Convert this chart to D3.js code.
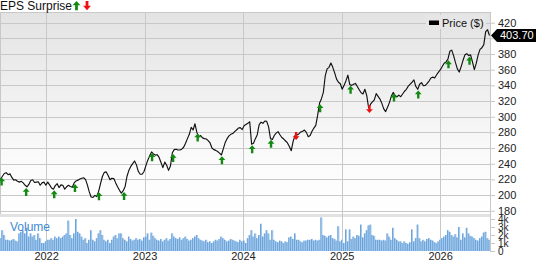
<!DOCTYPE html>
<html lang="en">

<head>
  <meta charset="UTF-8">
  <title>Price, EPS Surprise and Volume</title>
  <script src="https://cdn.jsdelivr.net/npm/d3@7/dist/d3.min.js"></script>
  <style>
    body {
      margin: 0;
      background: #fff;
    }

    svg {
      display: block;
      font-family: "Liberation Sans", Arial, sans-serif;
    }

    .axis text {
      fill: #222;
      font-size: 11px;
    }

    .axis line {
      stroke: #c8c8c8;
    }

    .axis path {
      display: none;
    }
  </style>
</head>

<body>
  <svg id="chart" width="538" height="262"></svg>

  <script>
    // weekly closes, first week ending 2021-07-16
    const startWeek = "2021-07-16";

    const prices = [
      220.5, 224, 227.5, 228.5, 226, 227, 222.5, 219, 219.5, 217.5,
      216.5, 217.5, 215.5, 212.5, 210.5, 213.5, 218.5, 219.5, 216, 216.5,
      217, 212.5, 215.5, 216.5, 212.5, 216.5, 213, 209, 207.5, 212,
      214.5, 209.5, 213, 212.5, 207.5, 210.5, 212.5, 211, 210, 215.5,
      218, 219, 220.5, 221.4, 222, 220, 213, 204, 197.5, 197,
      199.5, 198, 205, 215, 224, 229, 229.5, 225, 219.5, 221.5,
      221, 215.5, 210.5, 206, 202.5, 205.5, 211, 224, 231.5, 236.5,
      240, 243.5, 238.5, 230, 226.5, 226.5, 230, 237.5, 244.5, 250,
      255, 252.5, 251, 251.5, 248, 241.5, 235, 242, 238, 231.5,
      237, 254, 258, 258.5, 257.5, 257.5, 258.5, 261, 266, 272,
      277.5, 286.5, 283, 291, 280, 274, 276, 273, 272, 271.5,
      269.5, 266.5, 260, 258, 257, 255.5, 253.5, 251.1, 259, 267,
      272, 275.5, 277.5, 278.5, 281, 283, 285.5, 286, 283.5, 288.5,
      290, 291.5, 293.5, 265, 266, 272, 277, 290, 293, 291.5,
      294.5, 294, 287, 272, 271, 276, 279, 281, 277, 273.5,
      271.5, 269, 266.5, 262, 256.6, 268.5, 276, 276.5, 278, 280.5,
      281.5, 283, 280, 274.5, 276, 281.5, 285.5, 289, 302, 317.5,
      323, 331, 352, 361, 363, 368.5, 363, 356, 348, 344,
      342, 335, 340, 346, 353, 341, 340, 341.5, 342.5, 338.5,
      334.5, 330.5, 329, 335, 327, 311.1, 316, 319, 321.5, 329.5,
      326, 322.5, 317, 310, 306.5, 312, 318, 326, 331, 327,
      325.5, 327.5, 325.5, 329, 332.5, 335, 339, 341.5, 344, 347,
      338.5, 335, 341.5, 343.5, 339.5, 340, 342.5, 345.5, 349.5, 350.5,
      349.5, 353.5, 357, 360, 364, 368.2, 370, 373.5, 383.5, 385,
      378, 369, 361, 357, 364, 372, 379, 380.5, 378, 379,
      370, 360, 368, 379, 386, 388, 392, 408.5, 411, 403.7
    ];

    // weekly volume, in thousands
    const volumes = [
      1.6, 2.6, 2.0, 1.4, 1.4, 1.3, 1.4, 1.5, 1.3, 1.2, 2.2, 2.4, 2.6, 2.2, 2.9, 1.8, 2.2, 1.8, 2.0, 1.4,
      2.2, 1.6, 1.0, 1.0, 1.2, 1.4, 1.4, 1.6, 1.4, 1.8, 1.6, 1.8, 1.6, 1.8, 2.0, 2.2, 3.8, 2.0, 1.6, 2.2,
      4.0, 2.4, 2.2, 1.8, 1.4, 1.6, 1.0, 1.4, 2.6, 1.4, 1.2, 1.6, 2.2, 2.6, 2.0, 1.4, 1.2, 1.4, 1.0, 1.4,
      1.8, 2.0, 1.6, 2.2, 2.2, 1.6, 1.4, 1.2, 1.8, 1.5, 1.3, 1.4, 1.6, 1.4, 1.5, 1.3, 1.7, 1.8, 2.2, 1.4,
      2.3, 1.9, 1.6, 1.4, 1.3, 1.5, 1.2, 1.4, 1.6, 1.3, 1.5, 2.2, 1.8, 1.6, 1.5, 1.7, 1.4, 1.6, 1.8, 1.5,
      1.3, 1.4, 1.6, 1.8, 2.0, 1.6, 1.4, 1.3, 1.2, 1.4, 1.1, 1.2, 1.0, 1.2, 1.4, 1.3, 1.5, 1.8, 1.6, 1.4,
      1.2, 1.3, 1.5, 1.4, 1.3, 1.2, 1.1, 1.4, 1.2, 1.3, 1.0, 1.6, 2.0, 2.6, 1.8, 2.2, 1.6, 2.0, 3.4, 1.8,
      2.2, 2.6, 2.2, 1.4, 2.6, 1.4, 1.2, 1.1, 1.3, 1.2, 1.0, 1.2, 1.1, 1.7, 1.8, 1.5, 2.2, 1.4, 1.4, 1.2,
      1.1, 1.3, 1.3, 1.4, 1.4, 1.5, 1.3, 1.4, 1.3, 1.4, 4.2, 2.0, 1.9, 1.7, 1.9, 2.0, 1.6, 1.5, 1.3, 3.1,
      1.2, 1.4, 1.0, 2.7, 1.2, 2.7, 1.5, 1.8, 1.6, 2.0, 1.9, 3.3, 1.7, 2.2, 2.6, 3.2, 3.3, 2.0, 1.9, 1.4,
      1.4, 1.4, 1.3, 1.4, 1.3, 2.2, 1.8, 1.4, 2.9, 1.6, 1.4, 1.2, 1.2, 1.0, 1.2, 1.0, 0.9, 1.1, 2.7, 1.2,
      1.6, 3.3, 1.6, 1.2, 1.4, 1.2, 1.5, 1.6, 1.4, 1.3, 1.1, 1.0, 1.2, 1.4, 1.6, 1.8, 2.0, 2.6, 2.4, 2.0,
      1.8, 2.1, 1.7, 3.0, 1.4, 2.2, 1.7, 2.9, 2.2, 1.9, 1.8, 1.6, 1.4, 1.3, 1.6, 1.8, 2.3, 2.4, 1.6, 1.4
    ];

    const earningsDates = [
      "2021-07-20", "2021-10-19", "2022-01-31", "2022-04-18", "2022-07-16",
      "2022-10-17", "2023-01-29", "2023-04-17", "2023-07-17", "2023-10-15",
      "2024-02-04", "2024-04-14", "2024-07-16", "2024-10-13", "2025-02-03",
      "2025-04-14", "2025-07-14", "2025-10-12", "2026-02-01", "2026-04-20"
    ];
    const earningsSurprise = [
      "up", "up", "up", "up", "up", "up", "up", "up", "up", "up",
      "up", "up", "down", "up", "up", "down", "up", "up", "up", "up"
    ];

    const priceTicks = [180, 200, 220, 240, 260, 280, 300, 320, 340, 360, 380, 400, 420];
    const volumeTicks = [0, 1, 2, 3, 4];
    const lastPriceLabel = "403.70";

    const parse = d3.utcParse("%Y-%m-%d");
    const weeks = prices.map((_, i) => d3.utcDay.offset(parse(startWeek), 7 * i));

    const plotLeft = 0, plotRight = 490, plotTop = 12;
    const priceBottom = 214, volTop = 217, volBottom = 251;

    const svg = d3.select("#chart");

    const x = d3.scaleUtc()
      .domain([parse("2021-07-14"), parse("2026-07-05")])
      .range([plotLeft, plotRight]);

    const y = d3.scaleLinear().domain([180, 420]).range([210.7, 22.7]);
    const yVol = d3.scaleLinear().domain([0, 4]).range([volBottom, volBottom - 32]);

    // background gradient of the price panel
    const defs = svg.append("defs");
    const grad = defs.append("linearGradient")
      .attr("id", "bg").attr("x1", 0).attr("y1", 0).attr("x2", 0).attr("y2", 1);
    grad.append("stop").attr("offset", "0%").attr("stop-color", "#e3e3e3");
    grad.append("stop").attr("offset", "75%").attr("stop-color", "#fbfbfb");
    grad.append("stop").attr("offset", "100%").attr("stop-color", "#ffffff");

    svg.append("rect")
      .attr("x", plotLeft).attr("y", plotTop)
      .attr("width", plotRight - plotLeft).attr("height", priceBottom - plotTop)
      .attr("fill", "url(#bg)");

    // separator band between price and volume
    svg.append("rect")
      .attr("x", plotLeft).attr("y", priceBottom)
      .attr("width", plotRight - plotLeft).attr("height", volTop - priceBottom)
      .attr("fill", "#e2e2e2");

    // grid
    const grid = svg.append("g").attr("stroke", "#c8c8c8").attr("stroke-width", 1);
    grid.selectAll(".h")
      .data(priceTicks)
      .join("line")
      .attr("x1", plotLeft).attr("x2", plotRight)
      .attr("y1", d => Math.round(y(d)) + 0.5).attr("y2", d => Math.round(y(d)) + 0.5);

    grid.append("line")
      .attr("x1", plotLeft).attr("x2", plotRight)
      .attr("y1", plotTop + 0.5).attr("y2", plotTop + 0.5);

    const years = x.ticks(d3.utcYear.every(1));
    grid.selectAll(".v")
      .data(years)
      .join("line")
      .attr("x1", d => Math.round(x(d)) + 0.5).attr("x2", d => Math.round(x(d)) + 0.5)
      .attr("y1", plotTop).attr("y2", volBottom);

    grid.append("line")
      .attr("x1", plotLeft + 0.5).attr("x2", plotLeft + 0.5)
      .attr("y1", plotTop).attr("y2", priceBottom);

    // volume bars
    const barW = 1.9;
    svg.append("g")
      .selectAll("rect")
      .data(volumes)
      .join("rect")
      .attr("x", (d, i) => x(weeks[i]) - barW / 2)
      .attr("y", d => yVol(d))
      .attr("width", barW)
      .attr("height", d => volBottom - yVol(d))
      .attr("fill", "#a7caec");

    svg.append("g")
      .selectAll("rect")
      .data(volumes)
      .join("rect")
      .attr("x", (d, i) => x(weeks[i]) - barW / 2)
      .attr("y", d => yVol(d))
      .attr("width", 0.7)
      .attr("height", d => volBottom - yVol(d))
      .attr("fill", "#4f92d3");

    svg.append("text")
      .attr("x", 10).attr("y", 230.5)
      .attr("fill", "#3f8ad2")
      .attr("font-size", 12)
      .text("Volume");

    // price line
    const line = d3.line()
      .x((d, i) => x(weeks[i]))
      .y(d => y(d));

    svg.append("path")
      .datum(prices)
      .attr("fill", "none")
      .attr("stroke", "#111")
      .attr("stroke-width", 1.15)
      .attr("stroke-linejoin", "round")
      .attr("d", line);

    // earnings surprise arrows
    const upArrow = "M0,0 L3.4,3.8 L1.2,3.8 L1.2,8 L-1.2,8 L-1.2,3.8 L-3.4,3.8 Z";
    const downArrow = "M-1.2,0 L1.2,0 L1.2,4.2 L3.4,4.2 L0,8 L-3.4,4.2 L-1.2,4.2 Z";
    const bisect = d3.bisector(d => d).center;

    svg.append("g")
      .selectAll("path")
      .data(earningsDates)
      .join("path")
      .attr("transform", (d, i) => {
        const date = parse(d);
        const py = y(prices[bisect(weeks, date)]);
        const dy = earningsSurprise[i] === "up" ? 1.2 : -3;
        return `translate(${x(date)},${py + dy})`;
      })
      .attr("d", (d, i) => earningsSurprise[i] === "up" ? upArrow : downArrow)
      .attr("fill", (d, i) => earningsSurprise[i] === "up" ? "#128a12" : "#ee1111");

    // right axes
    svg.append("line")
      .attr("x1", plotRight + 0.5).attr("x2", plotRight + 0.5)
      .attr("y1", plotTop).attr("y2", volBottom + 1)
      .attr("stroke", "#c8c8c8");

    svg.append("g")
      .attr("class", "axis")
      .attr("transform", `translate(${plotRight},0)`)
      .call(d3.axisRight(y).tickValues(priceTicks).tickSize(5).tickPadding(3));

    svg.append("g")
      .attr("class", "axis")
      .attr("transform", `translate(${plotRight},0)`)
      .call(d3.axisRight(yVol).tickValues(volumeTicks).tickSize(5).tickPadding(3)
        .tickFormat(d => d === 0 ? "0" : d + "k"))
      .selectAll("text").style("font-size", "10px");

    // bottom year labels
    svg.append("g")
      .attr("class", "axis")
      .attr("transform", `translate(0,${volBottom})`)
      .call(d3.axisBottom(x).tickValues(years).tickSize(0).tickPadding(1)
        .tickFormat(d3.utcFormat("%Y")));

    // last price marker
    const lastY = y(prices[prices.length - 1]);
    svg.append("path")
      .attr("d", `M${plotRight + 1},${lastY} L${plotRight + 7},${lastY - 6.5} L536,${lastY - 6.5} L536,${lastY + 6.5} L${plotRight + 7},${lastY + 6.5} Z`)
      .attr("fill", "#000");
    svg.append("text")
      .attr("x", 500).attr("y", lastY + 4)
      .attr("fill", "#fff")
      .attr("font-size", 11)
      .text(lastPriceLabel);

    // legend
    svg.append("rect")
      .attr("x", 426).attr("y", 15).attr("width", 60).attr("height", 14)
      .attr("fill", "#e6e6e6");
    svg.append("rect")
      .attr("x", 429).attr("y", 20.5).attr("width", 10).attr("height", 4.5)
      .attr("fill", "#000");
    svg.append("text")
      .attr("x", 442).attr("y", 26.5)
      .attr("font-size", 11)
      .attr("fill", "#111")
      .text("Price ($)");

    // header
    svg.append("text")
      .attr("x", 0).attr("y", 10)
      .attr("font-size", 12)
      .attr("fill", "#111")
      .text("EPS Surprise");
    svg.append("path")
      .attr("transform", "translate(76.5,1) scale(1.15)")
      .attr("d", upArrow)
      .attr("fill", "#128a12");
    svg.append("path")
      .attr("transform", "translate(87,1) scale(1.15)")
      .attr("d", downArrow)
      .attr("fill", "#ee1111");
  </script>
</body>

</html>
